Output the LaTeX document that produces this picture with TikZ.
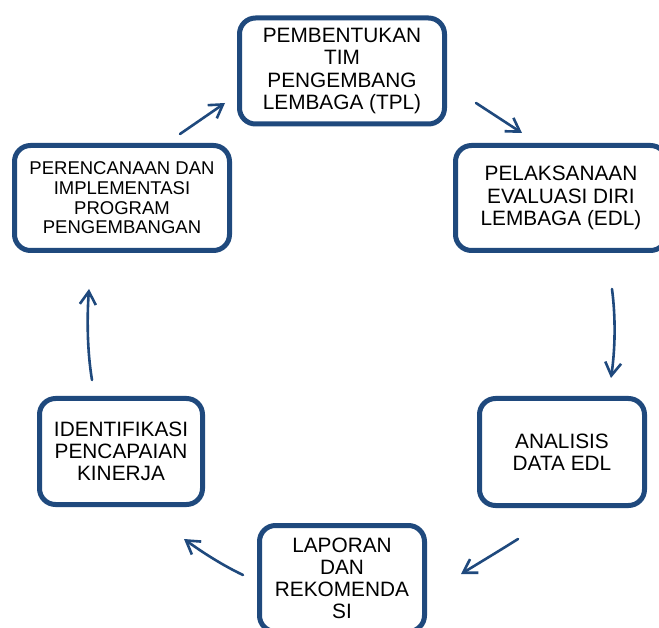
\documentclass[tikz,border=0pt]{standalone}
\usepackage{fontspec}
\setmainfont{Liberation Sans}
\usetikzlibrary{arrows.meta}
\definecolor{bord}{RGB}{31,73,125}
\begin{document}
\begin{tikzpicture}[x=1pt,y=-1pt,
  box/.style={draw=bord, line width=5pt, rounded corners=16pt, fill=white, align=center, inner sep=0pt,
    text=black, font=\fontsize{20.8}{22.2}\selectfont},
  smallbox/.style={box, font=\fontsize{18.5}{19.6}\selectfont},
  flow/.style={draw=bord, line width=2.6pt, line cap=round, -{Straight Barb[length=13pt,width=16pt]}}]
\useasboundingbox (0,0) rectangle (659,628);
\node[box, minimum width=205pt, minimum height=106pt] (tpl) at (342,71) {PEMBENTUKAN\\TIM\\PENGEMBANG\\LEMBAGA (TPL)};
\node[box, minimum width=211pt, minimum height=105pt] (edl) at (561,198) {PELAKSANAAN\\EVALUASI DIRI\\LEMBAGA (EDL)};
\node[smallbox, minimum width=215pt, minimum height=105pt] (per) at (122,198) {PERENCANAAN DAN\\IMPLEMENTASI\\PROGRAM\\PENGEMBANGAN};
\node[box, minimum width=163pt, minimum height=106pt] (ide) at (121,451.5) {IDENTIFIKASI\\PENCAPAIAN\\KINERJA};
\node[box, minimum width=165pt, minimum height=107pt] (ana) at (562,452) {ANALISIS\\DATA EDL};
\node[box, minimum width=165pt, minimum height=106pt] (lap) at (342,578.5) {LAPORAN\\DAN\\REKOMENDA\\SI};

\coordinate (a1s) at (180,134); \coordinate (a1e) at (225,103);
\coordinate (a2s) at (476,103); \coordinate (a2e) at (522,133);
\coordinate (a3s) at (612,289); \coordinate (a3e) at (611,378);
\coordinate (a4s) at (518,539); \coordinate (a4e) at (461,574);
\coordinate (a5s) at (243,575); \coordinate (a5e) at (184,539);
\coordinate (a6s) at (92,380);  \coordinate (a6e) at (89,289);

\draw[flow] (a1s) -- (a1e);
\draw[flow] (a2s) -- (a2e);
\draw[flow] (a3s) .. controls (616,320) and (615,350) .. (a3e);
\draw[flow] (a4s) .. controls (499,551) and (479,563) .. (a4e);
\draw[flow] (a5s) .. controls (222,565) and (202,552) .. (a5e);
\draw[flow] (a6s) .. controls (87,350) and (87,316) .. (a6e);
\end{tikzpicture}
\end{document}
